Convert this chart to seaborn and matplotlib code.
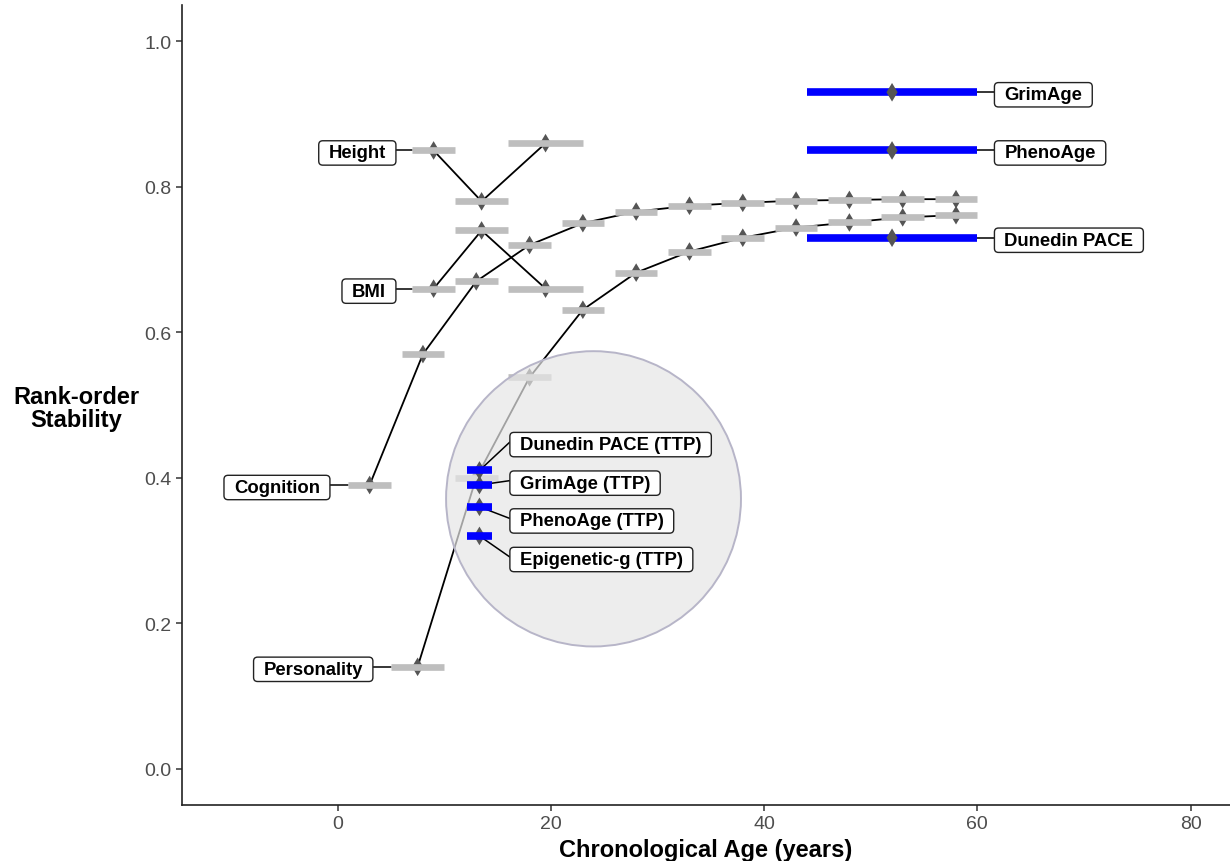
import numpy as np
import pandas as pd
import seaborn as sns
import matplotlib.pyplot as plt
from matplotlib.patches import Ellipse, BoxStyle
from matplotlib.transforms import offset_copy

# rank-order stability of traits by age (age range shown as grey bar)
height_age = [9, 13.5, 19.5]
height_lo = [7, 11, 16]
height_hi = [11, 16, 23]
height_r = [0.85, 0.78, 0.86]

bmi_age = [9, 13.5, 19.5]
bmi_lo = [7, 11, 16]
bmi_hi = [11, 16, 23]
bmi_r = [0.66, 0.74, 0.66]

cog_age = [3, 8, 13, 18, 23, 28, 33, 38, 43, 48, 53, 58]
cog_lo = [1, 6, 11, 16, 21, 26, 31, 36, 41, 46, 51, 56]
cog_hi = [5, 10, 15, 20, 25, 30, 35, 40, 45, 50, 55, 60]
cog_r = [0.39, 0.57, 0.67, 0.72, 0.75, 0.766, 0.774, 0.778, 0.781, 0.782, 0.783, 0.783]

pers_age = [7.5, 13, 18, 23, 28, 33, 38, 43, 48, 53, 58]
pers_lo = [5, 11, 16, 21, 26, 31, 36, 41, 46, 51, 56]
pers_hi = [10, 15, 20, 25, 30, 35, 40, 45, 50, 55, 60]
pers_r = [0.14, 0.40, 0.538, 0.631, 0.682, 0.711, 0.730, 0.744, 0.751, 0.758, 0.761]

# epigenetic clocks
clock_names = ['GrimAge', 'PhenoAge', 'Dunedin PACE']
clock_r = [0.93, 0.85, 0.73]
clock_age, clock_lo, clock_hi = 52, 44, 60

ttp_names = ['Dunedin PACE (TTP)', 'GrimAge (TTP)', 'PhenoAge (TTP)', 'Epigenetic-g (TTP)']
ttp_r = [0.41, 0.39, 0.36, 0.32]
ttp_age, ttp_lo, ttp_hi = 13.3, 12.1, 14.5

traits = pd.concat([
    pd.DataFrame({'trait': 'Height', 'age': height_age, 'lo': height_lo, 'hi': height_hi, 'r': height_r}),
    pd.DataFrame({'trait': 'BMI', 'age': bmi_age, 'lo': bmi_lo, 'hi': bmi_hi, 'r': bmi_r}),
    pd.DataFrame({'trait': 'Cognition', 'age': cog_age, 'lo': cog_lo, 'hi': cog_hi, 'r': cog_r}),
    pd.DataFrame({'trait': 'Personality', 'age': pers_age, 'lo': pers_lo, 'hi': pers_hi, 'r': pers_r}),
], ignore_index=True)
clocks = pd.DataFrame({'name': clock_names, 'age': clock_age, 'lo': clock_lo, 'hi': clock_hi, 'r': clock_r})
ttp = pd.DataFrame({'name': ttp_names, 'age': ttp_age, 'lo': ttp_lo, 'hi': ttp_hi, 'r': ttp_r})

sns.set_style('ticks')
plt.rcParams['font.family'] = ['Liberation Sans', 'DejaVu Sans']
plt.rcParams['text.color'] = 'black'


def label_box(x0, y0, w, h, mutation_size):
    # wider padding left/right than top/bottom, like ggrepel labels
    px, py = 0.54 * mutation_size, 0.2 * mutation_size
    return BoxStyle.Round(pad=0, rounding_size=0.22)(x0 - px, y0 - py, w + 2 * px, h + 2 * py, mutation_size)


box_kw = dict(boxstyle=label_box, fc='white', ec='#222222', lw=1.0)
lab_fs = 13.3
padx = 0.94  # label padding in years

fig = plt.figure(figsize=(12.3, 8.62), dpi=100)
ax = fig.add_axes([182 / 1230, 56 / 862, 1048 / 1230, 800 / 862])
lab_tr = offset_copy(ax.transData, fig=fig, y=-2.5, units='dots')

# traits
sns.lineplot(data=traits, x='age', y='r', units='trait', estimator=None, sort=False,
             color='black', lw=1.3, ax=ax, zorder=2)
sns.scatterplot(data=traits, x='age', y='r', marker='d', s=90, color='#555555',
                edgecolor='none', ax=ax, zorder=3)
ax.hlines(traits['r'], traits['lo'], traits['hi'], color='#bebebe', lw=4.8, zorder=4)

# highlight circle
ax.add_patch(Ellipse((24.0, 0.371), 27.66, 0.406, fc=(0.9, 0.9, 0.9, 0.7),
                     ec='#b7b5c8', lw=1.4, zorder=4.5))

# clocks (adult)
ax.hlines(clocks['r'], clocks['lo'], clocks['hi'], color='#0000ff', lw=5.5, zorder=5)
sns.scatterplot(data=clocks, x='age', y='r', marker='d', s=90, color='#555555',
                edgecolor='none', ax=ax, zorder=6)

# clocks (TTP, childhood)
sns.scatterplot(data=ttp, x='age', y='r', marker='d', s=90, color='#555555',
                edgecolor='none', ax=ax, zorder=5.8)
ax.hlines(ttp['r'], ttp['lo'], ttp['hi'], color='#0000ff', lw=5.5, zorder=6)

# labels on the left of the trait series
left_edge = {'Height': 5.47, 'BMI': 5.47, 'Cognition': -0.72, 'Personality': 3.31}
for name, edge in left_edge.items():
    first = traits[traits['trait'] == name].iloc[0]
    ax.plot([edge, first['lo']], [first['r'], first['r']], color='black', lw=1.1, zorder=1)
    ax.text(edge - padx, first['r'], name, ha='right', va='center', fontsize=lab_fs,
            fontweight='bold', bbox=box_kw, zorder=8, transform=lab_tr)

# labels on the right of the adult clocks
for _, row in clocks.iterrows():
    ax.plot([row['hi'], 61.6], [row['r'], row['r']], color='black', lw=1.1, zorder=1)
    ax.text(61.6 + padx, row['r'], row['name'], ha='left', va='center', fontsize=lab_fs,
            fontweight='bold', bbox=box_kw, zorder=8, transform=lab_tr)

# labels for TTP clocks
ttp_lab_y = [0.449, 0.396, 0.344, 0.291]
for (_, row), ly in zip(ttp.iterrows(), ttp_lab_y):
    ax.plot([row['age'], 16.15], [row['r'], ly], color='black', lw=1.1, zorder=5.7)
    ax.text(16.15 + padx, ly, row['name'], ha='left', va='center', fontsize=lab_fs,
            fontweight='bold', bbox=box_kw, zorder=8, transform=lab_tr)

ax.set_xlim(-14.6, 83.7)
ax.set_ylim(-0.05, 1.05)
ax.set_xticks([0, 20, 40, 60, 80])
ax.set_yticks([0.0, 0.2, 0.4, 0.6, 0.8, 1.0])
ax.set_yticklabels(['0.0', '0.2', '0.4', '0.6', '0.8', '1.0'])
ax.tick_params(labelsize=14, labelcolor='#4d4d4d', length=4, width=1.1, color='#333333')
for s in ['left', 'bottom']:
    ax.spines[s].set_linewidth(1.2)
    ax.spines[s].set_color('#222222')
sns.despine(ax=ax)
ax.set_xlabel('')
ax.set_ylabel('')

fig.text(706 / 1230, 1 - 857 / 862, 'Chronological Age (years)', ha='center', va='baseline',
         fontsize=17, fontweight='bold')
fig.text(76 / 1230, 1 - 409 / 862, 'Rank-order\nStability', ha='center', va='center',
         multialignment='center', fontsize=17, fontweight='bold', linespacing=1.05)

fig.savefig('out.png', dpi=100)
